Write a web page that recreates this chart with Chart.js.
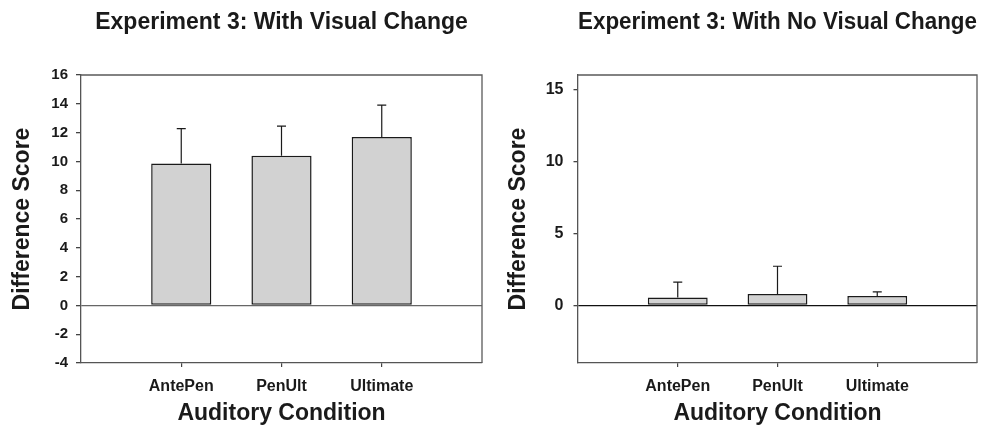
<!DOCTYPE html>
<html>
<head>
<meta charset="utf-8">
<script src="https://cdn.jsdelivr.net/npm/chart.js@4.4.0/dist/chart.umd.min.js"></script>
<style>
  body { margin: 0; background: #fff; }
  #wrap { position: relative; width: 985px; height: 429px; }
  canvas { position: absolute; top: 0; }
  #left { left: 0; }
  #right { left: 490px; }
</style>
</head>
<body>
<div id="wrap">
  <canvas id="left" width="490" height="429"></canvas>
  <canvas id="right" width="495" height="429"></canvas>
</div>
<script>
const categories = ['AntePen', 'PenUlt', 'Ultimate'];
const visualMeans = [9.85, 10.39, 11.69];
const visualErrors = [2.43, 2.06, 2.22];
const noVisualMeans = [0.55, 0.80, 0.65];
const noVisualErrors = [1.07, 1.92, 0.29];
const visualTicks = [-4, -2, 0, 2, 4, 6, 8, 10, 12, 14, 16];
const noVisualTicks = [0, 5, 10, 15];

Chart.defaults.font.family = '"Liberation Sans", Arial, sans-serif';
Chart.defaults.color = '#1a1a1a';

// upper error bars only, positioned with the y scale
const errorBars = {
    id: 'errorBars',
    afterDatasetsDraw(chart, args, opts) {
        const ctx = chart.ctx;
        const y = chart.scales.y;
        const meta = chart.getDatasetMeta(0);
        ctx.save();
        ctx.strokeStyle = '#1a1a1a';
        ctx.lineWidth = 1.2;
        meta.data.forEach((bar, i) => {
            let top = y.getPixelForValue(opts.means[i] + opts.errors[i]);
            ctx.beginPath();
            ctx.moveTo(bar.x, bar.y);
            ctx.lineTo(bar.x, top);
            ctx.moveTo(bar.x - 4.5, top);
            ctx.lineTo(bar.x + 4.5, top);
            ctx.stroke();
        });
        ctx.restore();
    }
};

// box round the plot area (top and right sides)
const frame = {
    id: 'frame',
    afterDatasetsDraw(chart) {
        const {ctx, chartArea: a} = chart;
        ctx.save();
        ctx.strokeStyle = '#5a5a5a';
        ctx.lineWidth = 1.3;
        ctx.beginPath();
        ctx.moveTo(a.left, a.top);
        ctx.lineTo(a.right, a.top);
        ctx.lineTo(a.right, a.bottom);
        ctx.stroke();
        ctx.restore();
    }
};

function makeChart(id, title, means, errors, yTicks, s) {
    const ctx = document.getElementById(id).getContext('2d');
    return new Chart(ctx, {
        type: 'bar',
        data: {
            datasets: [{
                data: means.map((v, i) => ({x: i + 1, y: v})),
                backgroundColor: '#d2d2d2',
                borderColor: '#1a1a1a',
                borderWidth: 1.5,
                borderSkipped: false,
                barPercentage: 0.6,
                categoryPercentage: 1
            }]
        },
        plugins: [errorBars, frame],
        options: {
            responsive: false,
            animation: false,
            devicePixelRatio: 1,
            layout: { padding: { left: 0, right: s.rightPad, top: 0, bottom: 0 } },
            plugins: {
                legend: { display: false },
                tooltip: { enabled: false },
                title: {
                    display: true,
                    text: title,
                    fullSize: false,
                    color: '#1a1a1a',
                    font: { size: 23, weight: 'bold' },
                    padding: { top: 9, bottom: 38.4 }
                },
                errorBars: { means: means, errors: errors }
            },
            scales: {
                x: {
                    type: 'linear',
                    offset: false,
                    min: 0,
                    max: categories.length + 1,
                    afterBuildTicks: sc => { sc.ticks = categories.map((c, i) => ({value: i + 1})); },
                    afterFit: sc => { sc.height = 66; },
                    ticks: {
                        autoSkip: false,
                        maxRotation: 0,
                        padding: 10,
                        font: { size: 16, weight: 'bold' },
                        callback: v => categories[v - 1]
                    },
                    grid: { offset: false, drawOnChartArea: false, tickLength: 4, tickColor: '#444', lineWidth: 1.2 },
                    border: { color: '#555', width: 1.3 },
                    title: {
                        display: true,
                        text: 'Auditory Condition',
                        font: { size: 23, weight: 'bold' },
                        padding: { top: 0, bottom: 2 }
                    }
                },
                y: {
                    min: -4,
                    max: 16,
                    afterBuildTicks: sc => { sc.ticks = yTicks.map(v => ({value: v})); },
                    afterFit: sc => { sc.width = s.yWidth; },
                    ticks: {
                        padding: s.yTickPad,
                        font: { size: s.yTickSize, weight: 'bold' }
                    },
                    grid: {
                        color: c => (c.tick && c.tick.value === 0) ? s.zeroColor : 'rgba(0,0,0,0)',
                        lineWidth: 1.3,
                        tickColor: '#444',
                        tickLength: s.tickLen
                    },
                    border: { color: '#555', width: 1.3 },
                    title: {
                        display: true,
                        text: 'Difference Score',
                        font: { size: 23, weight: 'bold' },
                        padding: { top: s.yTitlePad, bottom: 0 }
                    }
                }
            }
        }
    });
}

makeChart('left', 'Experiment 3: With Visual Change', visualMeans, visualErrors, visualTicks,
    { yWidth: 81, rightPad: 8, yTickPad: 8, yTickSize: 15, tickLen: 5, yTitlePad: 9, zeroColor: '#666' });
makeChart('right', 'Experiment 3: With No Visual Change', noVisualMeans, noVisualErrors, noVisualTicks,
    { yWidth: 88, rightPad: 8, yTickPad: 10, yTickSize: 16, tickLen: 4.5, yTitlePad: 14.5, zeroColor: '#111' });
</script>
</body>
</html>
